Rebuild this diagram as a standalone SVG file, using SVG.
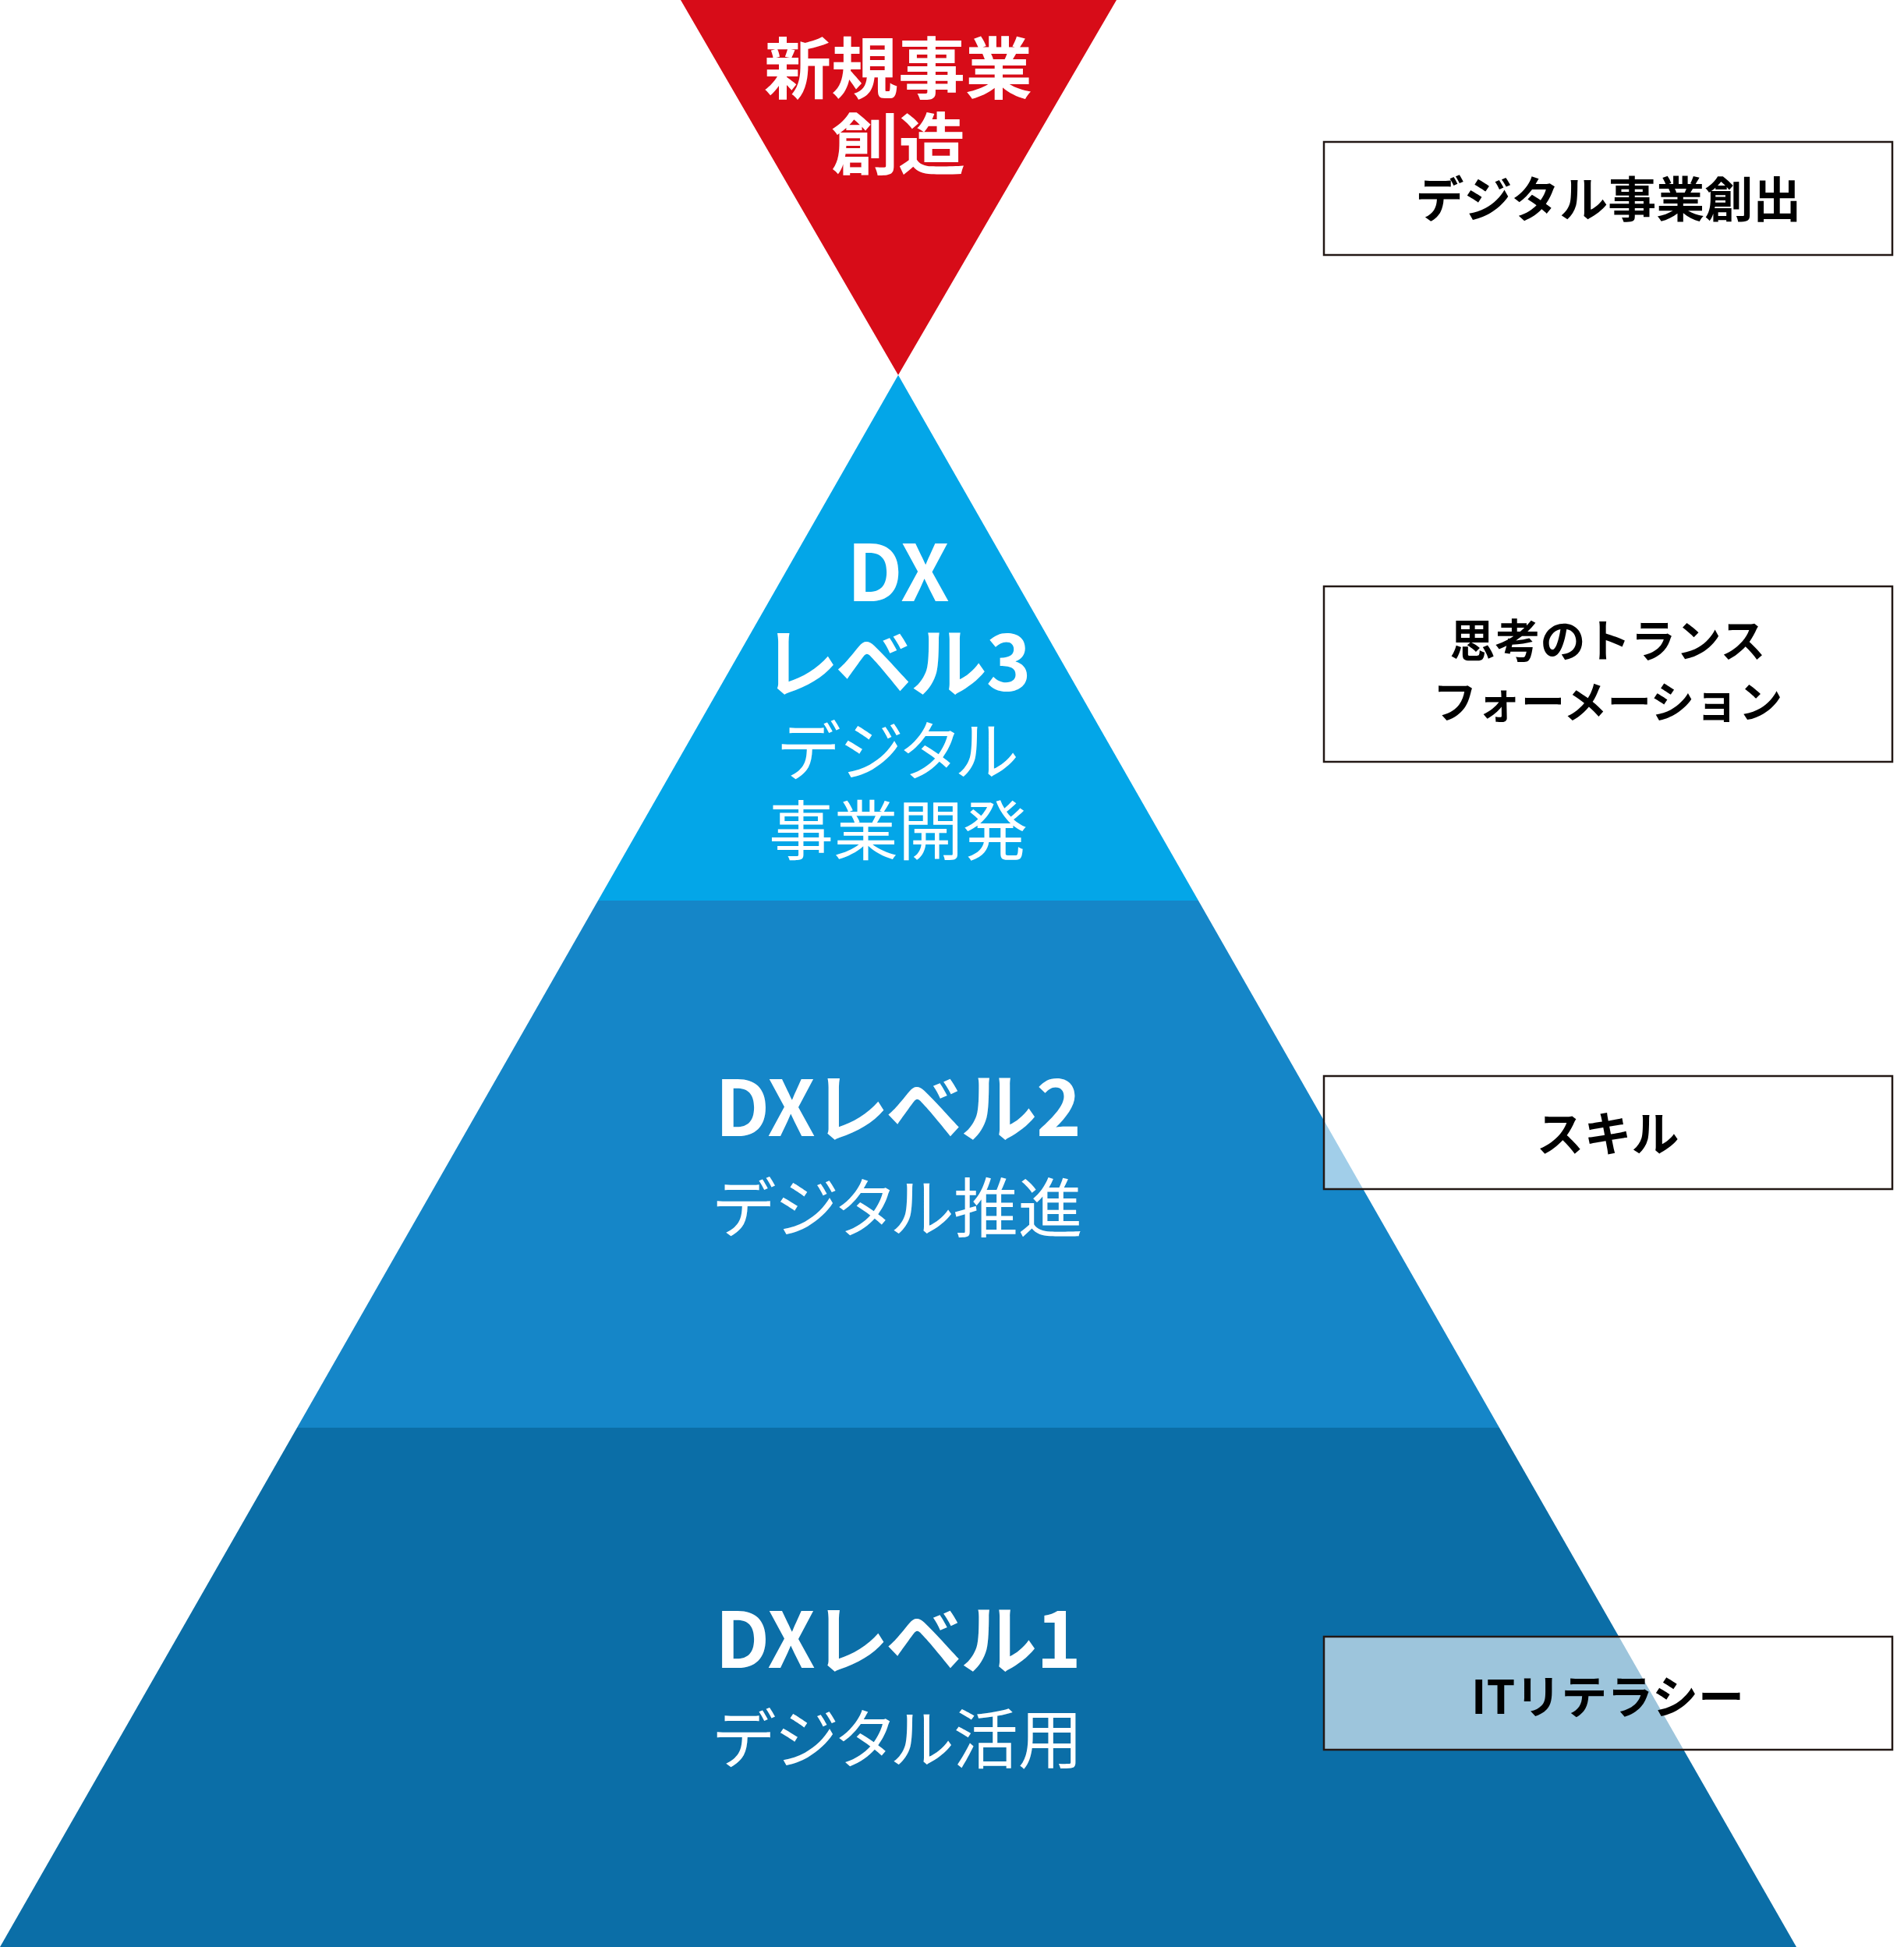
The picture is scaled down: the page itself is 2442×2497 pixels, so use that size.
<svg xmlns="http://www.w3.org/2000/svg" width="2442" height="2497" viewBox="0 0 2442 2497">
<style>
.t{font-family:"Noto Sans CJK JP","Noto Sans",sans-serif;text-anchor:middle;}
.w{fill:#ffffff;}
.b{font-weight:700;}
.r{font-weight:400;}
.p{font-feature-settings:"palt" 1;}
.k{fill:#000000;font-weight:700;}
.box{fill:#ffffff;fill-opacity:0.6;stroke:#231815;stroke-width:2.5;}
</style>
<rect x="0" y="0" width="2442" height="2497" fill="#ffffff"/>
<g id="top-new-business">
<polygon points="873,0 1432,0 1152,481" fill="#D70C18"/>
<text class="t w b" x="1152" y="120" font-size="86">新規事業</text>
<text class="t w b" x="1152" y="217" font-size="86">創造</text>
</g>
<g id="dx-level3">
<polygon points="1152,481 1537,1155 767,1155" fill="#03A6E8"/>
<text class="t w b p" x="1152" y="771" font-size="100">DX</text>
<text class="t w b p" x="1152" y="886" font-size="98">レベル3</text>
<text class="t w r p" x="1152" y="994" font-size="83">デジタル</text>
<text class="t w r p" x="1152" y="1096" font-size="83">事業開発</text>
</g>
<g id="dx-level2">
<polygon points="767,1155 1537,1155 1923,1831 381,1831" fill="#1586C8"/>
<text class="t w b p" x="1152" y="1457" font-size="98">DXレベル2</text>
<text class="t w r p" x="1152" y="1580" font-size="83">デジタル推進</text>
</g>
<g id="dx-level1">
<polygon points="381,1831 1923,1831 2304,2497 0,2497" fill="#0B6EA7"/>
<text class="t w b p" x="1152" y="2139" font-size="98">DXレベル1</text>
<text class="t w r p" x="1152" y="2261" font-size="83">デジタル活用</text>
</g>
<g id="box-digital-business">
<rect class="box" x="1698" y="182" width="729" height="145"/>
<text class="t k" x="2063" y="279" font-size="62">デジタル事業創出</text>
</g>
<g id="box-thinking">
<rect class="box" x="1698" y="752" width="729" height="225"/>
<text class="t k" x="2062" y="843" font-size="58">思考のトランス</text>
<text class="t k" x="2062" y="921" font-size="56.5">フォーメーション</text>
</g>
<g id="box-skill">
<rect class="box" x="1698" y="1380" width="729" height="145"/>
<text class="t k" x="2062" y="1477" font-size="61">スキル</text>
</g>
<g id="box-it-literacy">
<rect class="box" x="1698" y="2099" width="729" height="145"/>
<text class="t k" x="2062" y="2198" font-size="59">ITリテラシー</text>
</g>
<g id="connectors"></g>
</svg>
